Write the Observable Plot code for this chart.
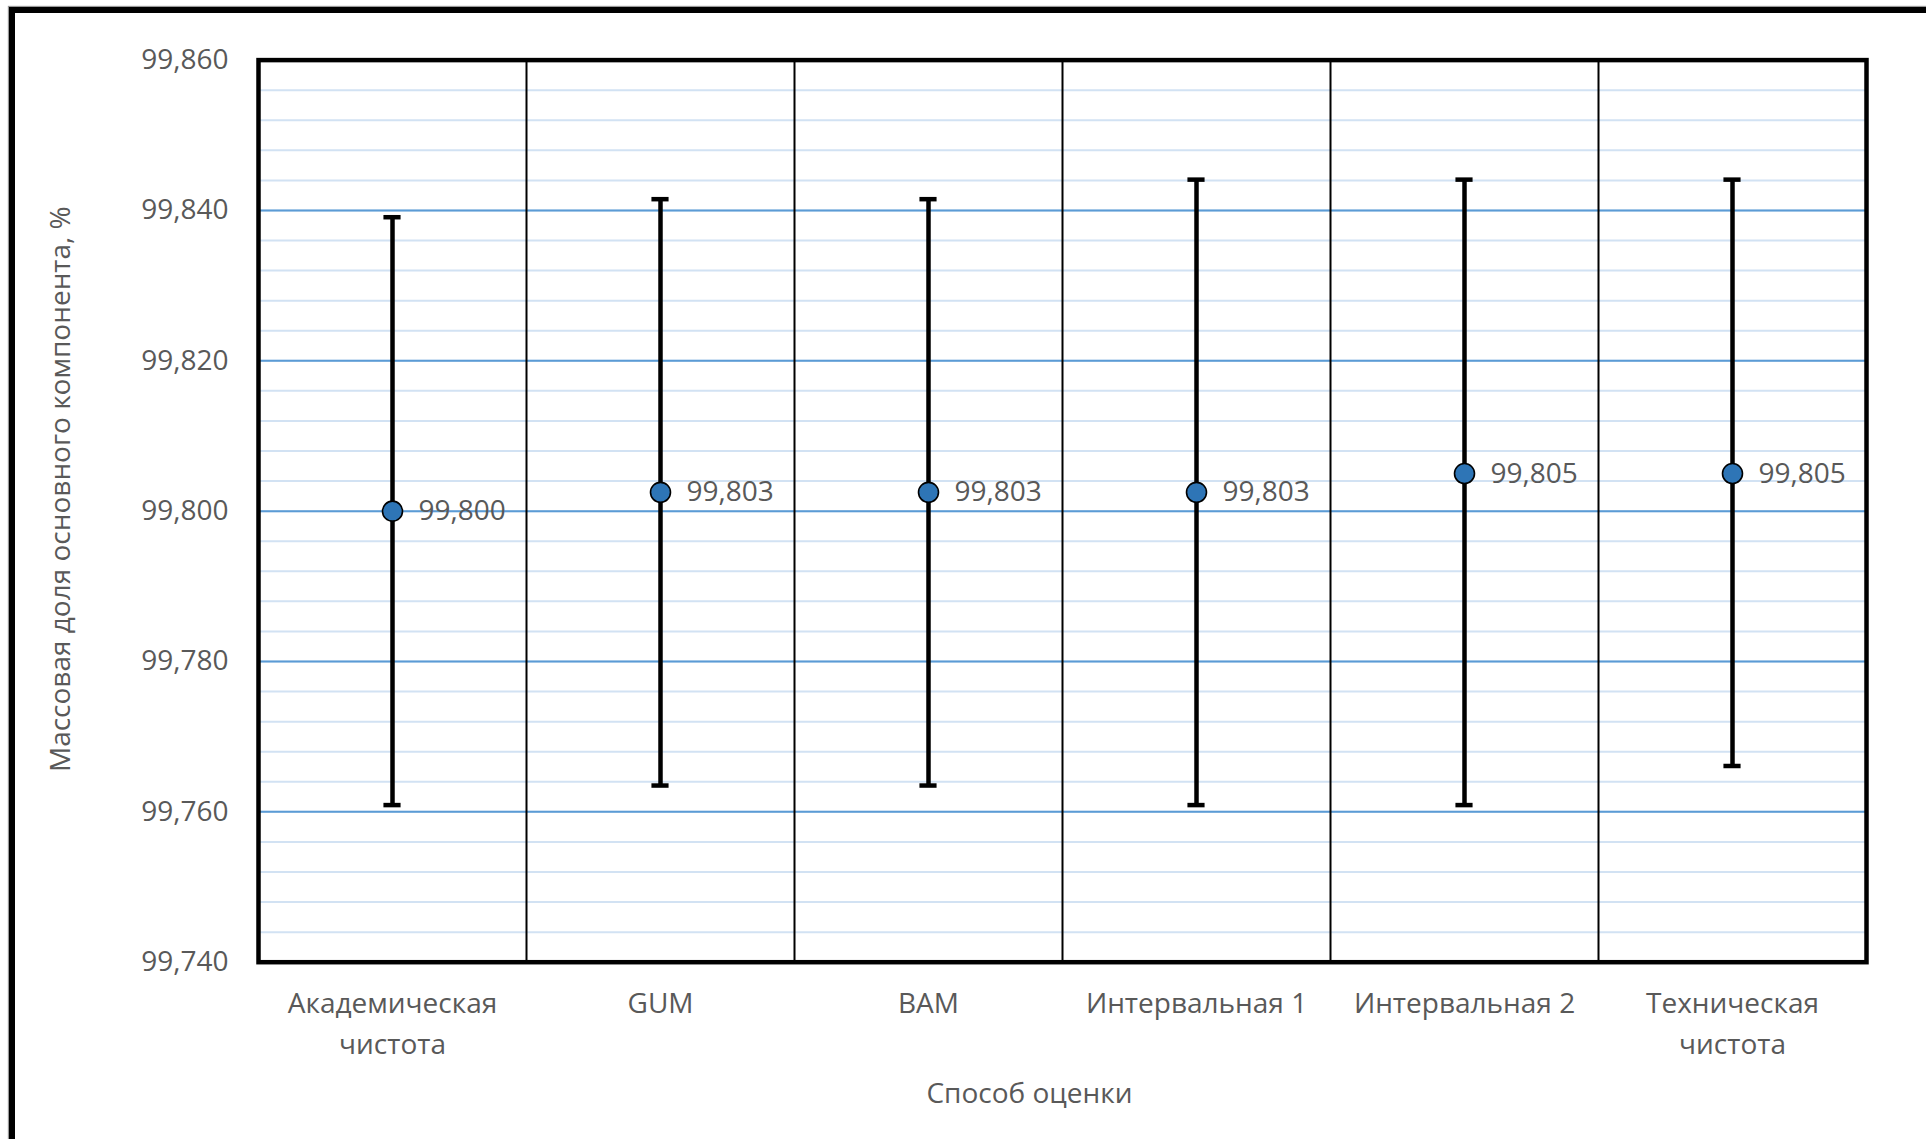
<!DOCTYPE html>
<html>
<head>
<meta charset="utf-8">
<script src="https://cdn.jsdelivr.net/npm/d3@7"></script>
<script src="https://cdn.jsdelivr.net/npm/@observablehq/plot@0.6"></script>
<style>
  html, body { margin: 0; padding: 0; background: #fff; overflow: hidden; }
  #wrap { position: relative; width: 1926px; height: 1139px; }
  #outer { position: absolute; left: 9px; top: 7px; width: 2100px; height: 1300px;
           border-top: 6px solid #000; border-left: 6px solid #000;
           box-shadow: -1px -1px 1px #999; pointer-events: none; }
  #chart { position: absolute; left: 0; top: 0; }
</style>
</head>
<body>
<div id="wrap">
  <div id="chart"></div>
  <div id="outer"></div>
</div>
<script>
// ---- Data ----
const categories = ["Академическая\nчистота", "GUM", "BAM", "Интервальная 1", "Интервальная 2", "Техническая\nчистота"];
const values     = [99.800, 99.8025, 99.8025, 99.8025, 99.805, 99.805];
const lows       = [99.7609, 99.7635, 99.7635, 99.7609, 99.7609, 99.7661];
const highs      = [99.8391, 99.8415, 99.8415, 99.8441, 99.8441, 99.8441];
const valueLabels = ["99,800", "99,803", "99,803", "99,803", "99,805", "99,805"];
const yMajorTicks = [99.74, 99.76, 99.78, 99.80, 99.82, 99.84, 99.86];
const yMinorTicks = d3.range(0, 31).map(i => +(99.74 + i * 0.004).toFixed(3));
const xTitle = "Способ оценки";
const yTitle = "Массовая доля основного компонента, %";

// ---- Table for Plot ----
const data = categories.map((c, i) => ({
  cat: c, pos: i + 0.5, value: values[i], low: lows[i], high: highs[i], label: valueLabels[i]
}));
const separators = d3.range(1, categories.length);
const capHalf = 0.032;
const textColor = "#595959";

const chart = Plot.plot({
  width: 1926,
  height: 1139,
  marginTop: 59.6,
  marginLeft: 258,
  marginRight: 60,
  marginBottom: 177.3,
  style: { fontFamily: "'Open Sans', sans-serif", fontSize: "28px", background: "white", overflow: "visible" },
  x: { domain: [0, categories.length], axis: null },
  y: { domain: [99.74, 99.86], axis: null },
  marks: [
    Plot.ruleY(yMinorTicks, { stroke: "#d2e2f3", strokeWidth: 2 }),
    Plot.ruleY(yMajorTicks, { stroke: "#5b9bd5", strokeWidth: 2 }),
    Plot.ruleX(separators, { stroke: "#000", strokeWidth: 2 }),
    Plot.frame({ stroke: "#000", strokeWidth: 4.5 }),
    Plot.axisY(yMajorTicks, {
      tickSize: 0, tickPadding: 30, fontSize: 28, color: textColor, label: null,
      tickFormat: d => d.toFixed(3).replace(".", ",")
    }),
    Plot.text(data, {
      x: "pos", text: "cat", frameAnchor: "bottom", lineAnchor: "top",
      dy: 22, lineHeight: 1.45, fontSize: 28, fill: textColor
    }),
    Plot.text([xTitle], {
      text: d => d, frameAnchor: "bottom", lineAnchor: "middle",
      dx: -33, dy: 132, fontSize: 28, fill: textColor
    }),
    Plot.text([yTitle], {
      text: d => d, frameAnchor: "left", rotate: -90, textAnchor: "middle", lineAnchor: "middle",
      dx: -197, dy: -22, fontSize: 28, fill: textColor
    }),
    Plot.ruleX(data, { x: "pos", y1: "low", y2: "high", stroke: "#000", strokeWidth: 4.5 }),
    Plot.ruleY(data, { y: "high", x1: d => d.pos - capHalf, x2: d => d.pos + capHalf, stroke: "#000", strokeWidth: 4.5 }),
    Plot.ruleY(data, { y: "low", x1: d => d.pos - capHalf, x2: d => d.pos + capHalf, stroke: "#000", strokeWidth: 4.5 }),
    Plot.dot(data, { x: "pos", y: "value", r: 10, fill: "#2e75b6", stroke: "#000", strokeWidth: 1.6 }),
    Plot.text(data, {
      x: "pos", y: "value", text: "label", textAnchor: "start", dx: 26,
      fontSize: 28, fill: textColor
    })
  ]
});
document.getElementById("chart").appendChild(chart);
</script>
</body>
</html>
